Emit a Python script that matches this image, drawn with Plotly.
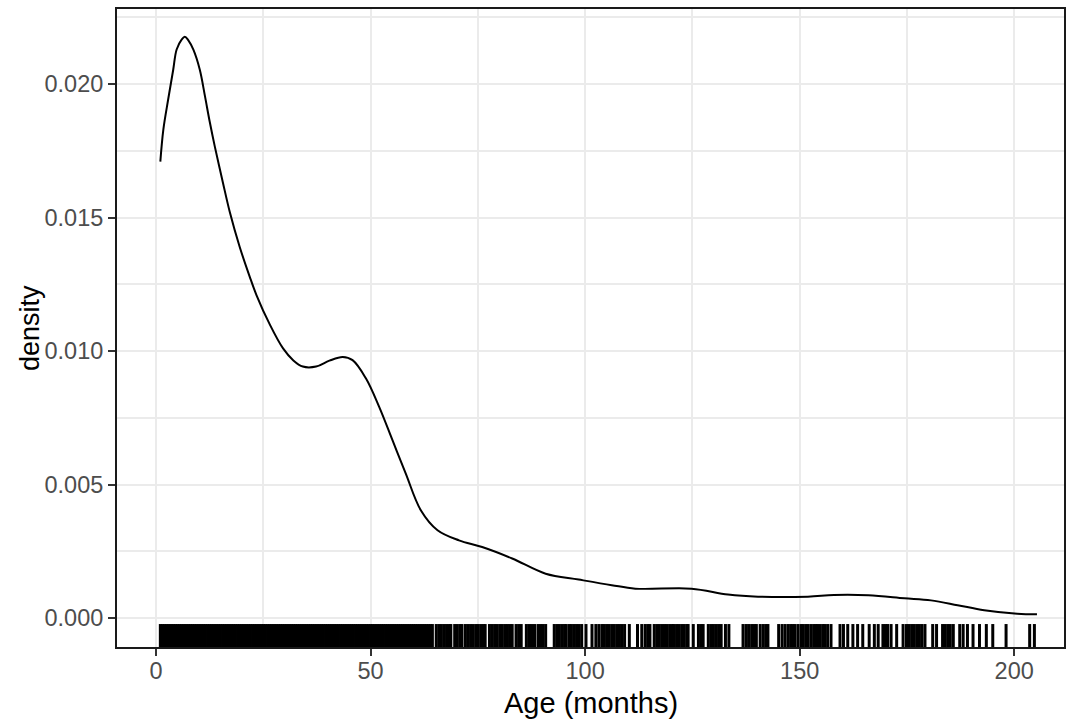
import plotly.graph_objects as go

# Density curve (age in months vs density)
age_curve = [1.0, 1.7, 2.9, 4.0, 4.8, 6.0, 6.7, 7.5, 8.7, 10.2, 11.4, 12.5, 13.7, 15.6,
             17.2, 19.5, 21.8, 23.4, 26.5, 29.6, 32.0, 34.2, 37.3, 40.4, 43.5, 45.8,
             48.9, 52.0, 55.1, 58.2, 61.7, 65.6, 70.6, 76.0, 83.0, 90.8, 98.5, 106.2,
             111.7, 124.8, 133.3, 140.3, 151.9, 158.0, 166.0, 174.4, 180.6, 186.8,
             193.0, 200.7, 205.3]
density = [0.0171, 0.0183, 0.0195, 0.02054, 0.02130, 0.02168, 0.02178, 0.02165, 0.02129,
           0.02054, 0.01955, 0.0186, 0.01766, 0.0163, 0.0152, 0.0139, 0.0128,
           0.0121, 0.0110, 0.0101, 0.00965, 0.00942, 0.00942, 0.00964, 0.00978,
           0.00966, 0.00898, 0.00791, 0.00666, 0.00541, 0.00404, 0.00329, 0.00291,
           0.00266, 0.00223, 0.00166, 0.00144, 0.00123, 0.00110, 0.00110, 0.00088,
           0.00080, 0.00080, 0.00086, 0.00085, 0.00074, 0.00066, 0.00048, 0.00029,
           0.00016, 0.00014]

# Rug: observed ages (months)
ages_dense = [1.0, 1.5, 2.0, 2.5, 3.0, 3.5, 4.0, 4.5, 5.0, 5.5, 6.0, 6.5, 7.0, 7.5, 8.0,
              8.5, 9.0, 9.5, 10.0, 10.5, 11.0, 11.5, 12.0, 12.5, 13.0, 13.5, 14.0, 14.5,
              15.0, 15.5, 16.0, 16.5, 17.0, 17.5, 18.0, 18.5, 19.0, 19.5, 20.0, 20.5,
              21.0, 21.5, 22.0, 22.5, 23.0, 23.5, 24.0, 24.5, 25.0, 25.5, 26.0, 26.5,
              27.0, 27.5, 28.0, 28.5, 29.0, 29.5, 30.0, 30.5, 31.0, 31.5, 32.0, 32.5,
              33.0, 33.5, 34.0, 34.5, 35.0, 35.5, 36.0, 36.5, 37.0, 37.5, 38.0, 38.5,
              39.0, 39.5, 40.0, 40.5, 41.0, 41.5, 42.0, 42.5, 43.0, 43.5, 44.0, 44.5,
              45.0, 45.5, 46.0, 46.5, 47.0, 47.5, 48.0, 48.5, 49.0, 49.5, 50.0, 50.5,
              51.0, 51.5, 52.0, 52.5, 53.0, 53.5, 54.0, 54.5, 55.0, 55.5, 56.0, 56.5,
              57.0, 57.5, 58.0, 58.5, 59.0, 59.5, 60.0, 60.5, 61.0, 61.5, 62.0, 62.5,
              63.0, 63.5, 64.0, 64.4]
ages_sparse = [65.3, 65.9, 66.5, 67.1, 67.7, 68.3, 68.7,
               69.6, 70.2, 70.8, 71.3,
               72.1, 72.7, 73.3, 73.9, 74.5, 75.1, 75.7, 76.3, 76.7,
               77.7, 78.3, 78.9, 79.5, 80.1, 80.7, 81.3, 81.9, 82.5, 83.0,
               83.9, 84.5, 85.1, 86.3, 86.9, 87.5, 88.2,
               89.0, 89.6, 90.2, 90.8,
               92.8, 93.4, 94.0, 94.6, 95.2, 95.6,
               96.3, 96.8, 97.4, 98.0, 98.6, 99.2,
               100.2, 101.6, 102.5, 103.2, 103.9,
               104.4, 105.0, 105.6, 106.2, 106.8, 107.4, 108.0, 108.6, 109.2,
               110.3, 112.2, 113.2, 114.0, 114.6, 115.1,
               116.1, 116.7, 117.3, 117.9, 118.5, 119.1, 119.7, 120.3, 120.6,
               121.3, 121.9, 122.5, 123.1, 123.7, 124.0,
               125.2, 126.4, 127.0, 127.5,
               128.7, 129.3, 129.9, 130.5, 131.1, 131.7,
               132.7, 133.5,
               136.8, 137.5, 138.1, 138.8, 139.4, 139.9,
               140.8, 141.5, 142.1, 142.6,
               145.1, 145.9, 146.6, 147.3, 147.9, 148.4,
               148.9, 149.6, 150.3, 150.8, 151.4, 152.0,
               152.7, 153.3, 153.8, 154.2, 154.8, 155.4, 155.8, 156.5, 157.3,
               159.4, 160.2, 161.2, 162.4, 163.5, 164.7, 166.2, 167.4, 168.3,
               169.4, 170.0, 170.5, 171.3, 172.6, 174.1, 174.9,
               175.5, 176.1, 176.7, 177.3, 177.9, 178.5, 179.2,
               181.0, 181.9, 183.3, 183.9, 184.5, 185.1, 185.8,
               187.3, 188.1, 189.1, 190.4, 191.9, 193.5, 195.0, 198.1, 203.6, 204.7]
rug_ages = ages_dense + ages_sparse

x_ticks = [0, 50, 100, 150, 200]
y_ticks = [0.000, 0.005, 0.010, 0.015, 0.020]
y_tick_labels = ["0.000", "0.005", "0.010", "0.015", "0.020"]

x_range = [-9.1, 211.6]
y_range = [-0.001087, 0.022816]
rug_y = -0.000699

fig = go.Figure()
fig.add_trace(go.Scatter(
    x=age_curve, y=density, mode="lines",
    line=dict(color="black", width=2, shape="spline", smoothing=1.0),
    showlegend=False, hoverinfo="skip"))
fig.add_trace(go.Scatter(
    x=rug_ages, y=[rug_y] * len(rug_ages), mode="markers",
    marker=dict(symbol="line-ns", size=18, color="black",
                line=dict(color="black", width=3)),
    showlegend=False, hoverinfo="skip"))

grid = "#EBEBEB"
fig.update_layout(
    width=1072, height=726,
    margin=dict(l=117, r=6, t=9, b=79),
    paper_bgcolor="white", plot_bgcolor="white",
    font=dict(family="Liberation Sans, Arial, sans-serif", color="#4D4D4D"),
    xaxis=dict(range=x_range, tickvals=x_ticks, ticks="outside", ticklen=7,
               tickwidth=2, tickcolor="#333333",
               tickfont=dict(size=23.5, color="#4D4D4D"), ticklabelstandoff=-5,
               showgrid=True, gridcolor=grid, gridwidth=2,
               minor=dict(dtick=25, tick0=0, showgrid=True, gridcolor=grid, gridwidth=1.5),
               showline=True, linecolor="#1A1A1A", linewidth=2, mirror=True,
               zeroline=False),
    yaxis=dict(range=y_range, tickvals=y_ticks, ticktext=y_tick_labels,
               ticks="outside", ticklen=7, tickwidth=2, tickcolor="#333333",
               tickfont=dict(size=23.5, color="#4D4D4D"), ticklabelstandoff=0,
               showgrid=True, gridcolor=grid, gridwidth=2,
               minor=dict(tickvals=[0.0025, 0.0075, 0.0125, 0.0175, 0.0225],
                          showgrid=True, gridcolor=grid, gridwidth=1.5),
               showline=True, linecolor="#1A1A1A", linewidth=2, mirror=True,
               zeroline=False),
    annotations=[
        dict(text="Age (months)", xref="paper", yref="paper", x=0.5, y=0,
             xanchor="center", yanchor="middle", yshift=-56, showarrow=False,
             font=dict(size=29, color="black")),
        dict(text="density", xref="paper", yref="paper", x=0, y=0.5,
             xanchor="center", yanchor="middle", xshift=-87, textangle=-90,
             showarrow=False, font=dict(size=27, color="black")),
    ],
)

fig.write_html("out.html", config={"displayModeBar": False},
               post_script="document.body.style.margin='0';document.body.style.overflow='hidden';")
